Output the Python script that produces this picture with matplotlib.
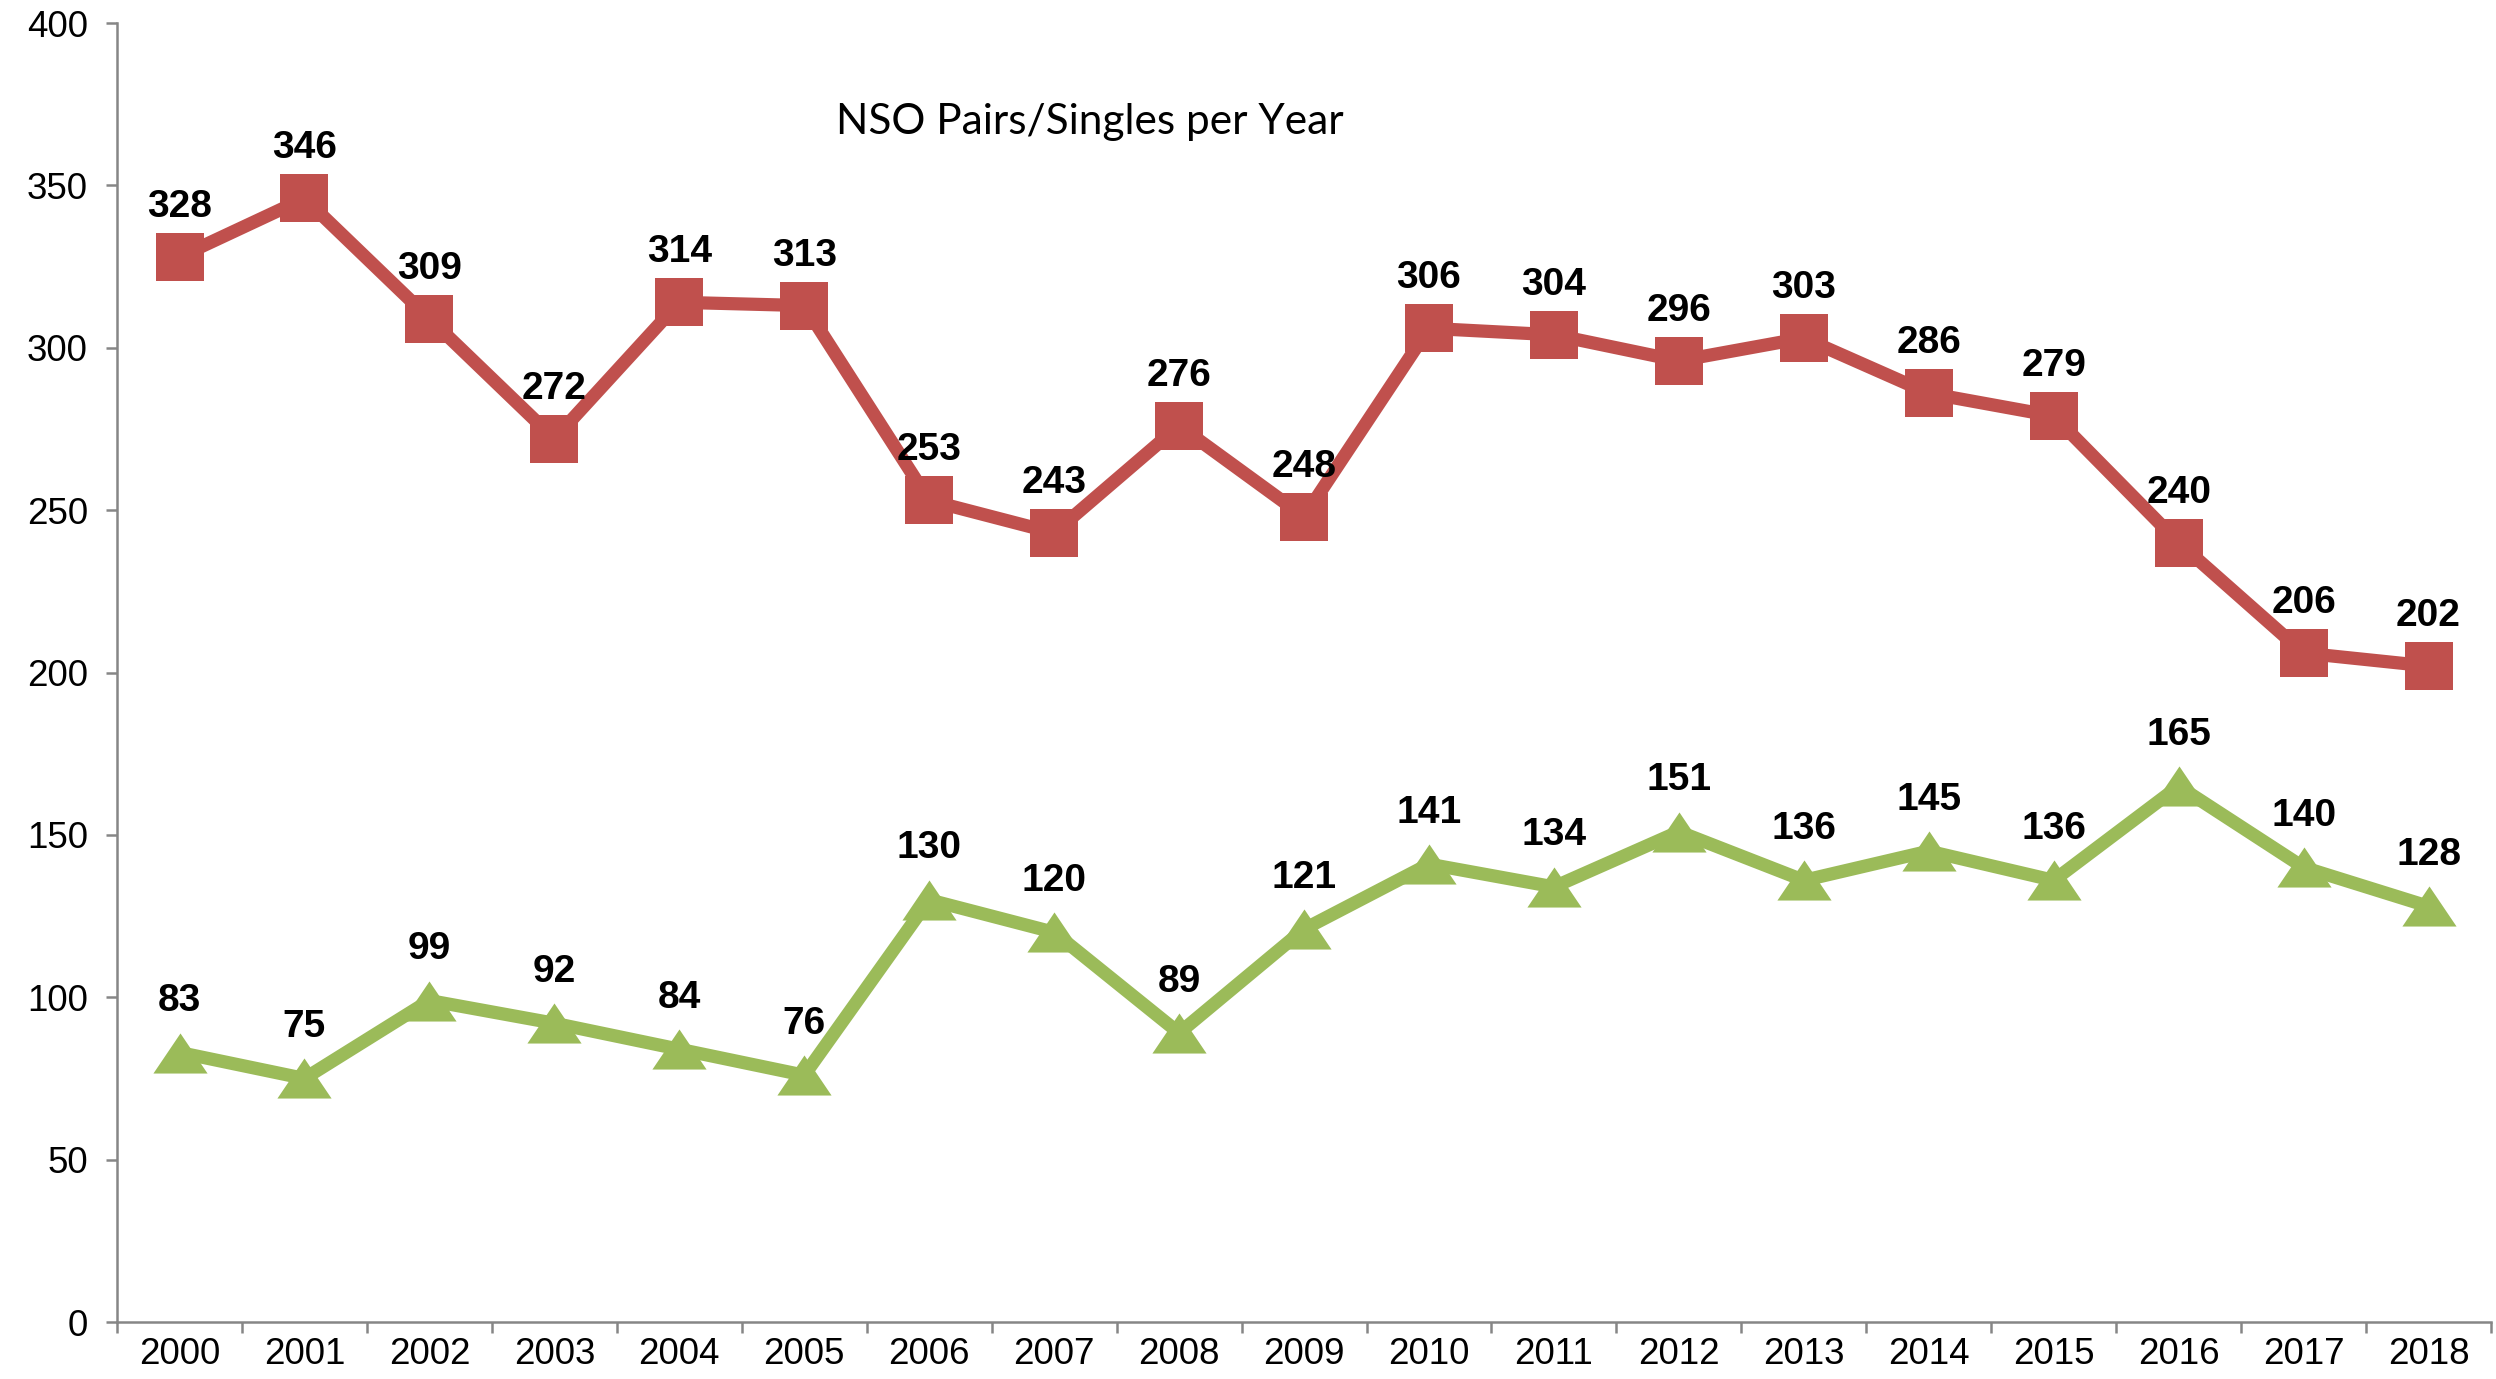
import matplotlib
matplotlib.use('Agg')
import matplotlib.pyplot as plt
from matplotlib.path import Path
import numpy as np

# data
years = [str(y) for y in range(2000, 2019)]
pairs = [328, 346, 309, 272, 314, 313, 253, 243, 276, 248,
         306, 304, 296, 303, 286, 279, 240, 206, 202]
singles = [83, 75, 99, 92, 84, 76, 130, 120, 89, 121,
           141, 134, 151, 136, 145, 136, 165, 140, 128]
y_ticks = [0, 50, 100, 150, 200, 250, 300, 350, 400]

RED = "#C0504D"
GREEN = "#9BBB59"
AXIS_GRAY = "#868686"

plt.rcParams['font.family'] = ['Liberation Sans', 'DejaVu Sans']

fig = plt.figure(figsize=(24.96, 13.79), dpi=100)
ax = fig.add_axes([0.0469, 0.0413, 0.9511, 0.942])

x = np.arange(len(years))

# flattened triangle marker like the Excel one
tri = Path([(0, 0.74), (-1, -0.74), (1, -0.74), (0, 0.74)],
           [Path.MOVETO, Path.LINETO, Path.LINETO, Path.CLOSEPOLY])

ax.plot(x, pairs, color=RED, linewidth=9.5, marker='s', markersize=34,
        markeredgewidth=0, solid_joinstyle='miter', zorder=3)
ax.plot(x, singles, color=GREEN, linewidth=9.5, marker=tri, markersize=39,
        markeredgewidth=0, solid_joinstyle='miter', zorder=3)

for xi, v in zip(x, pairs):
    ax.annotate(str(v), (xi, v), xytext=(0, 36), textcoords='offset points',
                ha='center', va='center', fontsize=28, fontweight='bold', zorder=4)
for xi, v in zip(x, singles):
    ax.annotate(str(v), (xi, v), xytext=(0, 37), textcoords='offset points',
                ha='center', va='center', fontsize=28, fontweight='bold', zorder=4)

ax.set_xlim(-0.5, len(years) - 0.5)
ax.set_ylim(0, 400)
ax.set_yticks(y_ticks)
ax.set_xticks(x)
ax.set_xticklabels(years)
ax.set_xticks(np.arange(-0.5, len(years), 1.0), minor=True)

for side in ['top', 'right']:
    ax.spines[side].set_visible(False)
for side in ['left', 'bottom']:
    ax.spines[side].set_color(AXIS_GRAY)
    ax.spines[side].set_linewidth(1.8)

ax.tick_params(axis='y', direction='out', length=8, width=1.8, color=AXIS_GRAY,
               labelsize=26.5, pad=13)
ax.tick_params(axis='x', which='major', length=0, labelsize=26.5, pad=11)
ax.tick_params(axis='x', which='minor', direction='out', length=8, width=1.8,
               color=AXIS_GRAY)

fig.text(1090 / 2496, 1 - 122 / 1379, "NSO Pairs/Singles per Year",
         ha='center', va='center', fontsize=30.5, family=['Lato', 'DejaVu Sans'])

fig.savefig('out.png', dpi=100)
